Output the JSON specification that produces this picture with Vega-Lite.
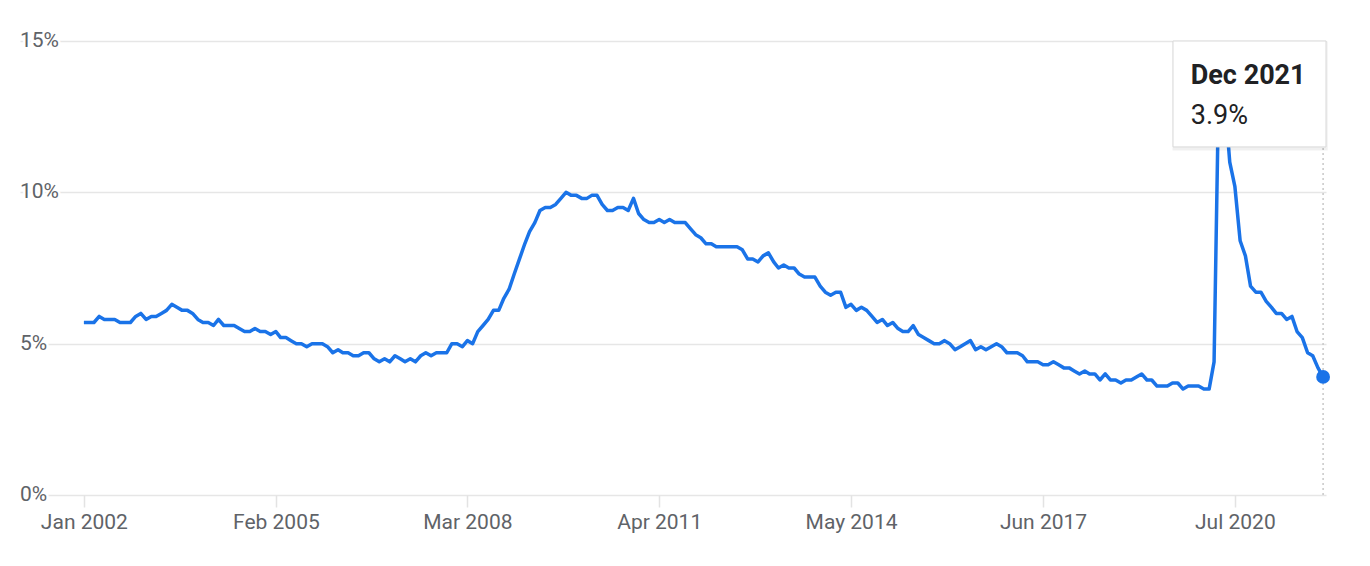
{
  "$schema": "https://vega.github.io/schema/vega-lite/v6.json",
  "width": 1306,
  "height": 454,
  "autosize": "none",
  "padding": {"left": 20, "top": 41, "right": 44, "bottom": 71},
  "background": "white",
  "config": {"view": {"stroke": null}, "font": "Roboto"},
  "datasets": {
    "rate": [
      {"date":"2002-01-01","v":5.7},{"date":"2002-02-01","v":5.7},{"date":"2002-03-01","v":5.7},{"date":"2002-04-01","v":5.9},{"date":"2002-05-01","v":5.8},{"date":"2002-06-01","v":5.8},{"date":"2002-07-01","v":5.8},{"date":"2002-08-01","v":5.7},{"date":"2002-09-01","v":5.7},{"date":"2002-10-01","v":5.7},{"date":"2002-11-01","v":5.9},{"date":"2002-12-01","v":6.0},
      {"date":"2003-01-01","v":5.8},{"date":"2003-02-01","v":5.9},{"date":"2003-03-01","v":5.9},{"date":"2003-04-01","v":6.0},{"date":"2003-05-01","v":6.1},{"date":"2003-06-01","v":6.3},{"date":"2003-07-01","v":6.2},{"date":"2003-08-01","v":6.1},{"date":"2003-09-01","v":6.1},{"date":"2003-10-01","v":6.0},{"date":"2003-11-01","v":5.8},{"date":"2003-12-01","v":5.7},
      {"date":"2004-01-01","v":5.7},{"date":"2004-02-01","v":5.6},{"date":"2004-03-01","v":5.8},{"date":"2004-04-01","v":5.6},{"date":"2004-05-01","v":5.6},{"date":"2004-06-01","v":5.6},{"date":"2004-07-01","v":5.5},{"date":"2004-08-01","v":5.4},{"date":"2004-09-01","v":5.4},{"date":"2004-10-01","v":5.5},{"date":"2004-11-01","v":5.4},{"date":"2004-12-01","v":5.4},
      {"date":"2005-01-01","v":5.3},{"date":"2005-02-01","v":5.4},{"date":"2005-03-01","v":5.2},{"date":"2005-04-01","v":5.2},{"date":"2005-05-01","v":5.1},{"date":"2005-06-01","v":5.0},{"date":"2005-07-01","v":5.0},{"date":"2005-08-01","v":4.9},{"date":"2005-09-01","v":5.0},{"date":"2005-10-01","v":5.0},{"date":"2005-11-01","v":5.0},{"date":"2005-12-01","v":4.9},
      {"date":"2006-01-01","v":4.7},{"date":"2006-02-01","v":4.8},{"date":"2006-03-01","v":4.7},{"date":"2006-04-01","v":4.7},{"date":"2006-05-01","v":4.6},{"date":"2006-06-01","v":4.6},{"date":"2006-07-01","v":4.7},{"date":"2006-08-01","v":4.7},{"date":"2006-09-01","v":4.5},{"date":"2006-10-01","v":4.4},{"date":"2006-11-01","v":4.5},{"date":"2006-12-01","v":4.4},
      {"date":"2007-01-01","v":4.6},{"date":"2007-02-01","v":4.5},{"date":"2007-03-01","v":4.4},{"date":"2007-04-01","v":4.5},{"date":"2007-05-01","v":4.4},{"date":"2007-06-01","v":4.6},{"date":"2007-07-01","v":4.7},{"date":"2007-08-01","v":4.6},{"date":"2007-09-01","v":4.7},{"date":"2007-10-01","v":4.7},{"date":"2007-11-01","v":4.7},{"date":"2007-12-01","v":5.0},
      {"date":"2008-01-01","v":5.0},{"date":"2008-02-01","v":4.9},{"date":"2008-03-01","v":5.1},{"date":"2008-04-01","v":5.0},{"date":"2008-05-01","v":5.4},{"date":"2008-06-01","v":5.6},{"date":"2008-07-01","v":5.8},{"date":"2008-08-01","v":6.1},{"date":"2008-09-01","v":6.1},{"date":"2008-10-01","v":6.5},{"date":"2008-11-01","v":6.8},{"date":"2008-12-01","v":7.3},
      {"date":"2009-01-01","v":7.8},{"date":"2009-02-01","v":8.3},{"date":"2009-03-01","v":8.7},{"date":"2009-04-01","v":9.0},{"date":"2009-05-01","v":9.4},{"date":"2009-06-01","v":9.5},{"date":"2009-07-01","v":9.5},{"date":"2009-08-01","v":9.6},{"date":"2009-09-01","v":9.8},{"date":"2009-10-01","v":10.0},{"date":"2009-11-01","v":9.9},{"date":"2009-12-01","v":9.9},
      {"date":"2010-01-01","v":9.8},{"date":"2010-02-01","v":9.8},{"date":"2010-03-01","v":9.9},{"date":"2010-04-01","v":9.9},{"date":"2010-05-01","v":9.6},{"date":"2010-06-01","v":9.4},{"date":"2010-07-01","v":9.4},{"date":"2010-08-01","v":9.5},{"date":"2010-09-01","v":9.5},{"date":"2010-10-01","v":9.4},{"date":"2010-11-01","v":9.8},{"date":"2010-12-01","v":9.3},
      {"date":"2011-01-01","v":9.1},{"date":"2011-02-01","v":9.0},{"date":"2011-03-01","v":9.0},{"date":"2011-04-01","v":9.1},{"date":"2011-05-01","v":9.0},{"date":"2011-06-01","v":9.1},{"date":"2011-07-01","v":9.0},{"date":"2011-08-01","v":9.0},{"date":"2011-09-01","v":9.0},{"date":"2011-10-01","v":8.8},{"date":"2011-11-01","v":8.6},{"date":"2011-12-01","v":8.5},
      {"date":"2012-01-01","v":8.3},{"date":"2012-02-01","v":8.3},{"date":"2012-03-01","v":8.2},{"date":"2012-04-01","v":8.2},{"date":"2012-05-01","v":8.2},{"date":"2012-06-01","v":8.2},{"date":"2012-07-01","v":8.2},{"date":"2012-08-01","v":8.1},{"date":"2012-09-01","v":7.8},{"date":"2012-10-01","v":7.8},{"date":"2012-11-01","v":7.7},{"date":"2012-12-01","v":7.9},
      {"date":"2013-01-01","v":8.0},{"date":"2013-02-01","v":7.7},{"date":"2013-03-01","v":7.5},{"date":"2013-04-01","v":7.6},{"date":"2013-05-01","v":7.5},{"date":"2013-06-01","v":7.5},{"date":"2013-07-01","v":7.3},{"date":"2013-08-01","v":7.2},{"date":"2013-09-01","v":7.2},{"date":"2013-10-01","v":7.2},{"date":"2013-11-01","v":6.9},{"date":"2013-12-01","v":6.7},
      {"date":"2014-01-01","v":6.6},{"date":"2014-02-01","v":6.7},{"date":"2014-03-01","v":6.7},{"date":"2014-04-01","v":6.2},{"date":"2014-05-01","v":6.3},{"date":"2014-06-01","v":6.1},{"date":"2014-07-01","v":6.2},{"date":"2014-08-01","v":6.1},{"date":"2014-09-01","v":5.9},{"date":"2014-10-01","v":5.7},{"date":"2014-11-01","v":5.8},{"date":"2014-12-01","v":5.6},
      {"date":"2015-01-01","v":5.7},{"date":"2015-02-01","v":5.5},{"date":"2015-03-01","v":5.4},{"date":"2015-04-01","v":5.4},{"date":"2015-05-01","v":5.6},{"date":"2015-06-01","v":5.3},{"date":"2015-07-01","v":5.2},{"date":"2015-08-01","v":5.1},{"date":"2015-09-01","v":5.0},{"date":"2015-10-01","v":5.0},{"date":"2015-11-01","v":5.1},{"date":"2015-12-01","v":5.0},
      {"date":"2016-01-01","v":4.8},{"date":"2016-02-01","v":4.9},{"date":"2016-03-01","v":5.0},{"date":"2016-04-01","v":5.1},{"date":"2016-05-01","v":4.8},{"date":"2016-06-01","v":4.9},{"date":"2016-07-01","v":4.8},{"date":"2016-08-01","v":4.9},{"date":"2016-09-01","v":5.0},{"date":"2016-10-01","v":4.9},{"date":"2016-11-01","v":4.7},{"date":"2016-12-01","v":4.7},
      {"date":"2017-01-01","v":4.7},{"date":"2017-02-01","v":4.6},{"date":"2017-03-01","v":4.4},{"date":"2017-04-01","v":4.4},{"date":"2017-05-01","v":4.4},{"date":"2017-06-01","v":4.3},{"date":"2017-07-01","v":4.3},{"date":"2017-08-01","v":4.4},{"date":"2017-09-01","v":4.3},{"date":"2017-10-01","v":4.2},{"date":"2017-11-01","v":4.2},{"date":"2017-12-01","v":4.1},
      {"date":"2018-01-01","v":4.0},{"date":"2018-02-01","v":4.1},{"date":"2018-03-01","v":4.0},{"date":"2018-04-01","v":4.0},{"date":"2018-05-01","v":3.8},{"date":"2018-06-01","v":4.0},{"date":"2018-07-01","v":3.8},{"date":"2018-08-01","v":3.8},{"date":"2018-09-01","v":3.7},{"date":"2018-10-01","v":3.8},{"date":"2018-11-01","v":3.8},{"date":"2018-12-01","v":3.9},
      {"date":"2019-01-01","v":4.0},{"date":"2019-02-01","v":3.8},{"date":"2019-03-01","v":3.8},{"date":"2019-04-01","v":3.6},{"date":"2019-05-01","v":3.6},{"date":"2019-06-01","v":3.6},{"date":"2019-07-01","v":3.7},{"date":"2019-08-01","v":3.7},{"date":"2019-09-01","v":3.5},{"date":"2019-10-01","v":3.6},{"date":"2019-11-01","v":3.6},{"date":"2019-12-01","v":3.6},
      {"date":"2020-01-01","v":3.5},{"date":"2020-02-01","v":3.5},{"date":"2020-03-01","v":4.4},{"date":"2020-04-01","v":14.8},{"date":"2020-05-01","v":13.2},{"date":"2020-06-01","v":11.0},{"date":"2020-07-01","v":10.2},{"date":"2020-08-01","v":8.4},{"date":"2020-09-01","v":7.9},{"date":"2020-10-01","v":6.9},{"date":"2020-11-01","v":6.7},{"date":"2020-12-01","v":6.7},
      {"date":"2021-01-01","v":6.4},{"date":"2021-02-01","v":6.2},{"date":"2021-03-01","v":6.0},{"date":"2021-04-01","v":6.0},{"date":"2021-05-01","v":5.8},{"date":"2021-06-01","v":5.9},{"date":"2021-07-01","v":5.4},{"date":"2021-08-01","v":5.2},{"date":"2021-09-01","v":4.7},{"date":"2021-10-01","v":4.6},{"date":"2021-11-01","v":4.2},{"date":"2021-12-01","v":3.9}
    ],
    "yticks": [
      {"tv":0,"lab":"0%"},{"tv":5,"lab":"5%"},{"tv":10,"lab":"10%"},{"tv":15,"lab":"15%"}
    ],
    "last": [
      {"date":"2021-12-01","v":3.9,"title":"Dec 2021","value":"3.9%"}
    ]
  },
  "layer": [
    {
      "data": {"name": "rate"},
      "mark": {"type": "line", "color": "#1a73e8", "strokeWidth": 3.5, "strokeJoin": "round"},
      "encoding": {
        "x": {
          "field": "date", "type": "temporal",
          "scale": {"type": "utc", "domain": [{"year":2000,"month":12,"date":22,"utc":true},{"year":2021,"month":12,"date":18,"utc":true}]},
          "axis": {
            "title": null,
            "values": [
              {"year":2002,"month":1,"date":1,"utc":true},
              {"year":2005,"month":2,"date":1,"utc":true},
              {"year":2008,"month":3,"date":1,"utc":true},
              {"year":2011,"month":4,"date":1,"utc":true},
              {"year":2014,"month":5,"date":1,"utc":true},
              {"year":2017,"month":6,"date":1,"utc":true},
              {"year":2020,"month":7,"date":1,"utc":true}
            ],
            "format": "%b %Y",
            "labelFontSize": 21,
            "labelColor": "#5f6368",
            "labelFont": "Roboto",
            "labelFlush": false,
            "labelPadding": 4,
            "tickColor": "#e3e3e3",
            "tickSize": 12,
            "tickWidth": 1.5,
            "domain": false,
            "grid": false
          }
        },
        "y": {
          "field": "v", "type": "quantitative",
          "scale": {"domain": [0, 15], "nice": false, "zero": true},
          "axis": {
            "title": null,
            "values": [0, 5, 10, 15],
            "labels": false,
            "ticks": false,
            "domain": false,
            "grid": true,
            "gridColor": "#e6e6e6",
            "gridWidth": 1.5
          }
        }
      }
    },
    {
      "data": {"name": "last"},
      "mark": {"type": "rule", "color": "#c8c8c8", "strokeDash": [2, 3], "strokeWidth": 1.5},
      "encoding": {
        "x": {"field": "date", "type": "temporal"},
        "y": {"datum": 0},
        "y2": {"datum": 15}
      }
    },
    {
      "data": {"name": "last"},
      "mark": {"type": "point", "filled": true, "color": "#1a73e8", "size": 190, "opacity": 1},
      "encoding": {
        "x": {"field": "date", "type": "temporal"},
        "y": {"field": "v", "type": "quantitative"}
      }
    },
    {
      "data": {"name": "last"},
      "mark": {"type": "rect", "fill": "#000000", "opacity": 0.06},
      "encoding": {
        "x": {"datum": {"year":2019,"month":7,"date":1,"utc":true}},
        "x2": {"datum": {"year":2021,"month":12,"date":28,"utc":true}},
        "y": {"datum": 14.98},
        "y2": {"datum": 11.38}
      }
    },
    {
      "data": {"name": "last"},
      "mark": {"type": "rect", "fill": "#ffffff", "stroke": "#d9d9d9", "strokeWidth": 1},
      "encoding": {
        "x": {"datum": {"year":2019,"month":7,"date":4,"utc":true}},
        "x2": {"datum": {"year":2021,"month":12,"date":18,"utc":true}},
        "y": {"datum": 15},
        "y2": {"datum": 11.5}
      }
    },
    {
      "data": {"name": "last"},
      "mark": {"type": "text", "align": "left", "baseline": "alphabetic", "fontSize": 27, "fontWeight": "bold", "color": "#202124", "font": "Roboto"},
      "encoding": {
        "x": {"datum": {"year":2019,"month":10,"date":16,"utc":true}},
        "y": {"datum": 13.58},
        "text": {"field": "title"}
      }
    },
    {
      "data": {"name": "last"},
      "mark": {"type": "text", "align": "left", "baseline": "alphabetic", "fontSize": 27, "color": "#202124", "font": "Roboto"},
      "encoding": {
        "x": {"datum": {"year":2019,"month":10,"date":16,"utc":true}},
        "y": {"datum": 12.26},
        "text": {"field": "value"}
      }
    },
    {
      "data": {"name": "yticks"},
      "mark": {"type": "text", "align": "left", "baseline": "middle", "fontSize": 21, "font": "Roboto", "color": "#ffffff", "stroke": "#ffffff", "strokeWidth": 5},
      "encoding": {
        "x": {"datum": {"year":2000,"month":12,"date":22,"utc":true}},
        "y": {"field": "tv", "type": "quantitative"},
        "text": {"field": "lab"}
      }
    },
    {
      "data": {"name": "yticks"},
      "mark": {"type": "text", "align": "left", "baseline": "middle", "fontSize": 21, "font": "Roboto", "color": "#5f6368"},
      "encoding": {
        "x": {"datum": {"year":2000,"month":12,"date":22,"utc":true}},
        "y": {"field": "tv", "type": "quantitative"},
        "text": {"field": "lab"}
      }
    }
  ]
}
